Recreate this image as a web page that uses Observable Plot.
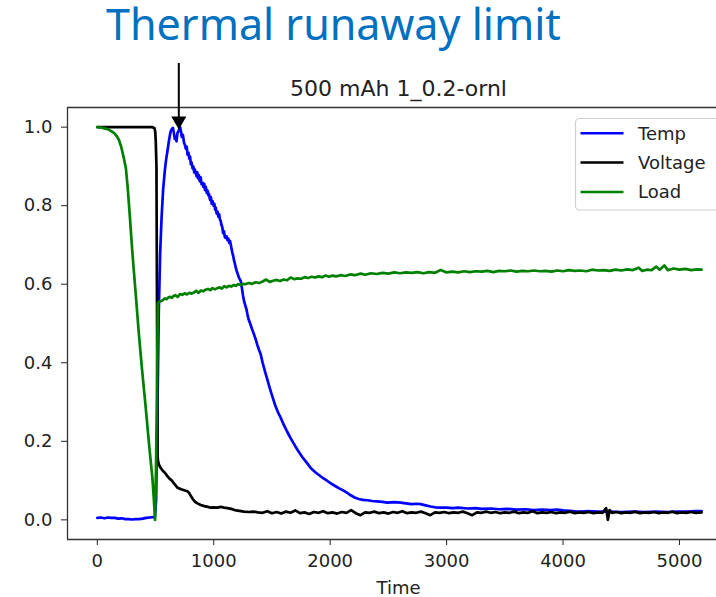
<!DOCTYPE html>
<html><head><meta charset="utf-8">
<script src="https://cdn.jsdelivr.net/npm/d3@7"></script>
<script src="https://cdn.jsdelivr.net/npm/@observablehq/plot@0.6"></script>
<style>body{margin:0;background:#fff;} svg{display:block}</style>
</head><body><div id="chart"></div>
<script>
const seriesNames = ["Temp", "Voltage", "Load"];
const seriesColors = ["#0000ff", "#000000", "#008000"];

const temp = [[0,.005],[30,.006],[60,.004],[90,.006],[120,.005],[150,.005],[180,.003],[210,.004],[240,.002],[270,.002],[300,.001],[330,.002],[360,.002],[390,.003],[420,.005],[450,.006],[480,.007],[495,.008],[505,.05],[515,.25],[528,.53],[540,.68],[552,.77],[565,.84],[580,.89],[592,.92],[603,.94],[615,.965],[624,.98],[631,.99],[640,.995],[649,.998],[658,.985],[665,.97],[672,.975],[680,.964],[688,.985],[697,.99],[704,.995],[711,1.0],[718,.99],[726,.975],[735,.98],[745,.96],[752,.955],[760,.945],[768,.95],[775,.93],[783,.935],[790,.92],[797,.925],[803,.906],[810,.91],[818,.895],[825,.9],[832,.885],[838,.892],[845,.884],[852,.875],[858,.885],[865,.87],[872,.878],[880,.862],[888,.872],[895,.855],[903,.858],[910,.848],[918,.856],[925,.84],[932,.848],[940,.832],[948,.838],[955,.826],[960,.829],[968,.815],[975,.822],[983,.805],[990,.812],[998,.8],[1005,.805],[1012,.79],[1017,.795],[1025,.78],[1032,.785],[1040,.772],[1047,.778],[1053,.765],[1060,.761],[1067,.75],[1074,.745],[1080,.73],[1088,.735],[1095,.72],[1103,.718],[1110,.722],[1118,.712],[1126,.716],[1133,.705],[1140,.71],[1146,.702],[1153,.69],[1160,.68],[1167,.672],[1175,.66],[1182,.652],[1189,.642],[1196,.635],[1204,.628],[1212,.62],[1220,.615],[1232,.608],[1242,.59],[1252,.57],[1262,.555],[1272,.545],[1282,.535],[1289,.524],[1300,.51],[1315,.498],[1330,.485],[1345,.473],[1360,.46],[1375,.445],[1390,.432],[1403,.422],[1420,.4],[1440,.378],[1460,.358],[1475,.342],[1489,.328],[1510,.308],[1530,.29],[1550,.275],[1575,.26],[1600,.243],[1630,.225],[1660,.208],[1690,.193],[1720,.178],[1760,.16],[1800,.145],[1833,.132],[1870,.122],[1900,.115],[1940,.106],[1976,.099],[2010,.092],[2050,.085],[2085,.079],[2119,.074],[2150,.068],[2180,.062],[2210,.057],[2245,.053],[2280,.051],[2320,.05],[2360,.048],[2400,.047],[2450,.046],[2490,.044],[2550,.045],[2605,.044],[2650,.042],[2700,.04],[2740,.041],[2777,.04],[2820,.037],[2863,.034],[2900,.032],[2950,.031],[3000,.031],[3050,.030],[3100,.031],[3178,.029],[3250,.030],[3300,.028],[3380,.029],[3450,.027],[3520,.028],[3600,.026],[3680,.027],[3750,.025],[3820,.026],[3893,.025],[3950,.026],[4000,.024],[4060,.023],[4122,.021],[4200,.022],[4300,.021],[4400,.021],[4500,.02],[4600,.021],[4700,.02],[4800,.021],[4900,.02],[4980,.021],[5050,.021],[5120,.022],[5190,.022]];

const voltage = [[0,1],[100,1],[200,1],[300,1],[400,1],[470,1],[490,.998],[497,.99],[502,.965],[508,.9],[512,.6],[515,.35],[518,.16],[522,.15],[530,.14],[545,.132],[560,.126],[580,.12],[600,.112],[620,.105],[640,.1],[660,.092],[688,.082],[705,.08],[720,.078],[740,.076],[760,.074],[774,.073],[790,.068],[805,.06],[820,.053],[840,.046],[860,.042],[888,.038],[920,.035],[950,.033],[974,.031],[1000,.032],[1030,.031],[1060,.033],[1090,.031],[1117,.030],[1150,.028],[1180,.025],[1220,.023],[1260,.021],[1300,.02],[1340,.021],[1380,.019],[1420,.018],[1460,.022],[1500,.017],[1540,.02],[1580,.016],[1620,.021],[1660,.018],[1700,.024],[1740,.017],[1780,.019],[1820,.015],[1860,.02],[1900,.018],[1940,.022],[1980,.017],[2020,.019],[2060,.016],[2100,.02],[2140,.018],[2180,.025],[2220,.017],[2260,.012],[2300,.019],[2340,.018],[2380,.021],[2420,.017],[2460,.019],[2500,.016],[2540,.02],[2580,.018],[2620,.022],[2660,.017],[2700,.019],[2740,.018],[2780,.021],[2820,.017],[2860,.012],[2900,.019],[2940,.018],[2980,.02],[3020,.017],[3060,.019],[3100,.018],[3140,.021],[3180,.017],[3220,.012],[3260,.019],[3300,.018],[3340,.021],[3380,.018],[3420,.02],[3460,.017],[3500,.019],[3540,.018],[3580,.021],[3620,.017],[3660,.019],[3700,.018],[3740,.022],[3780,.017],[3820,.019],[3860,.018],[3900,.02],[3940,.017],[3980,.019],[4020,.018],[4060,.021],[4100,.017],[4140,.019],[4180,.018],[4220,.02],[4260,.017],[4300,.019],[4340,.018],[4370,.03],[4385,.0],[4400,.025],[4420,.018],[4460,.02],[4500,.017],[4540,.019],[4580,.018],[4620,.021],[4660,.017],[4700,.019],[4740,.018],[4780,.02],[4820,.017],[4860,.019],[4900,.018],[4940,.021],[4980,.017],[5020,.019],[5060,.018],[5100,.02],[5140,.018],[5190,.019]];

const load = [[0,1],[30,.999],[60,.997],[90,.995],[120,.99],[145,.985],[165,.978],[185,.968],[205,.95],[225,.925],[245,.896],[260,.85],[280,.77],[302,.677],[330,.575],[357,.473],[385,.38],[416,.285],[445,.19],[473,.107],[485,.055],[496,.0],[505,.15],[513,.35],[520,.552],[535,.556],[550,.557],[565,.56],[580,.564],[595,.562],[610,.566],[625,.568],[640,.565],[655,.57],[670,.572],[690,.568],[710,.575],[730,.573],[750,.577],[770,.574],[790,.578],[810,.576],[830,.579],[850,.583],[870,.578],[890,.584],[910,.582],[930,.586],[950,.588],[970,.585],[990,.59],[1010,.587],[1030,.59],[1050,.592],[1070,.589],[1090,.595],[1110,.592],[1130,.596],[1150,.594],[1170,.598],[1190,.596],[1210,.6],[1230,.598],[1250,.601],[1270,.6],[1300,.603],[1330,.601],[1360,.605],[1390,.603],[1420,.607],[1450,.612],[1480,.606],[1510,.609],[1540,.611],[1570,.608],[1600,.612],[1630,.61],[1660,.617],[1690,.613],[1720,.615],[1750,.614],[1780,.618],[1810,.616],[1840,.619],[1870,.617],[1900,.62],[1930,.618],[1960,.622],[1990,.619],[2020,.622],[2050,.62],[2090,.623],[2130,.621],[2170,.625],[2210,.623],[2262,.627],[2300,.624],[2350,.628],[2400,.626],[2450,.629],[2500,.627],[2550,.63],[2600,.628],[2650,.63],[2700,.629],[2750,.631],[2800,.628],[2850,.631],[2900,.629],[2950,.636],[3000,.63],[3050,.632],[3100,.63],[3150,.633],[3200,.631],[3250,.633],[3300,.632],[3350,.634],[3400,.631],[3450,.634],[3500,.633],[3550,.635],[3600,.632],[3650,.634],[3700,.633],[3750,.635],[3800,.633],[3850,.634],[3900,.632],[3950,.635],[4000,.633],[4050,.636],[4100,.634],[4150,.635],[4200,.633],[4250,.637],[4300,.635],[4350,.636],[4400,.634],[4450,.637],[4500,.635],[4550,.638],[4600,.636],[4650,.642],[4680,.634],[4720,.637],[4760,.636],[4800,.645],[4830,.637],[4870,.648],[4900,.636],[4950,.64],[5000,.637],[5050,.639],[5100,.636],[5150,.638],[5190,.637]];

const xTicks = [0, 1000, 2000, 3000, 4000, 5000];
const yTicks = [0, 0.2, 0.4, 0.6, 0.8, 1.0];
const xDomain = [-256, 5318];
const yDomain = [-0.05, 1.05];
const bigTitle = "Thermal runaway limit";
const plotTitle = "500 mAh 1_0.2-ornl";
const xLabel = "Time";
const arrowMark = [{t: 700, from: 1.162, head: 1.016}];

const rows = [];
[temp, voltage, load].forEach((s, i) => s.forEach(([t, v]) => rows.push({t, v, series: seriesNames[i]})));

const plot = Plot.plot({
  width: 716, height: 597,
  marginLeft: 67, marginRight: 0, marginTop: 107, marginBottom: 58,
  style: {fontFamily: "DejaVu Sans", fontSize: "18px", color: "#222", background: "#fff", overflow: "visible"},
  x: {domain: xDomain},
  y: {domain: yDomain},
  color: {domain: seriesNames, range: seriesColors},
  marks: [
    Plot.axisX({ticks: xTicks, tickSize: 6, tickPadding: 9, label: null, fontSize: 18, tickFormat: d3.format("d")}),
    Plot.axisY({ticks: yTicks, tickSize: 6, tickPadding: 9, label: null, tickFormat: d3.format(".1f"), fontSize: 18}),
    Plot.ruleY([yDomain[0], yDomain[1]], {stroke: "#333", strokeWidth: 1.3}),
    Plot.ruleX([xDomain[0]], {stroke: "#333", strokeWidth: 1.3}),
    Plot.line(rows, {x: "t", y: "v", z: "series", stroke: "series", strokeWidth: 2.7, strokeLinejoin: "round"}),
    Plot.ruleX(arrowMark, {x: "t", y1: "from", y2: "head", stroke: "#000", strokeWidth: 2}),
    Plot.dot(arrowMark, {x: "t", y: "head", symbol: "triangle2", rotate: 180, r: 7.2, fill: "#000", stroke: null})
  ]
});
document.getElementById("chart").appendChild(plot);

const svg = d3.select(plot);
const font = "DejaVu Sans";

// big annotation title
const bt = svg.append("text").attr("x", 106).attr("y", 39.5).attr("text-anchor", "start")
  .attr("font-family", "Noto Sans").attr("font-size", 43).attr("fill", "#0070C0").text(bigTitle);
const w = bt.node().getComputedTextLength();
if (w > 0) bt.attr("font-size", 43 * 455 / w);

// plot title
svg.append("text").attr("x", 398.5).attr("y", 96).attr("text-anchor", "middle")
  .attr("font-family", font).attr("font-size", 22).attr("fill", "#222").text(plotTitle);

// x label
svg.append("text").attr("x", 398.5).attr("y", 594).attr("text-anchor", "middle")
  .attr("font-family", font).attr("font-size", 18).attr("fill", "#222").text(xLabel);

// legend
const lg = svg.append("g");
lg.append("rect").attr("x", 575.5).attr("y", 118.5).attr("width", 160).attr("height", 91.5).attr("rx", 4)
  .attr("fill", "#fff").attr("fill-opacity", 0.85).attr("stroke", "#cfcfcf").attr("stroke-width", 1.2);
seriesNames.forEach((name, i) => {
  const cy = 133.3 + i * 29.3;
  lg.append("line").attr("x1", 580.5).attr("x2", 623.5).attr("y1", cy).attr("y2", cy)
    .attr("stroke", seriesColors[i]).attr("stroke-width", 2.5);
  lg.append("text").attr("x", 638).attr("y", cy + 6.5).attr("text-anchor", "start")
    .attr("font-family", font).attr("font-size", 18).attr("fill", "#222").text(name);
});
</script>
</body></html>
